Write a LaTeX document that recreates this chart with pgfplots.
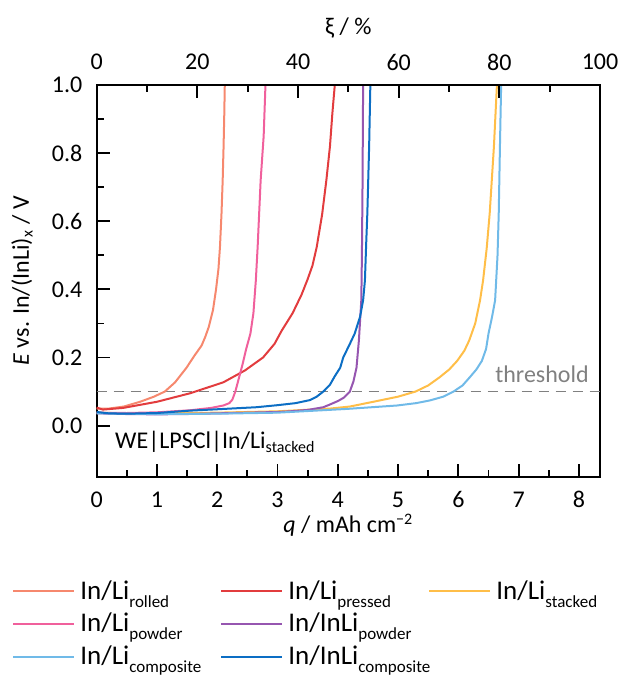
\documentclass[border=0pt]{standalone}
\usepackage{fontspec}
\setmainfont{Carlito}
\usepackage{pgfplots}
\pgfplotsset{compat=1.18}
\definecolor{cRolled}{RGB}{246,136,110}
\definecolor{cPressed}{RGB}{226,60,62}
\definecolor{cStacked}{RGB}{255,190,72}
\definecolor{cPowder}{RGB}{240,96,156}
\definecolor{cInLiPowder}{RGB}{150,86,176}
\definecolor{cComposite}{RGB}{112,186,232}
\definecolor{cInLiComposite}{RGB}{12,110,196}
\newcommand{\lt}[2]{\makebox[72.5pt][l]{\rule[-4pt]{0pt}{13pt}\hspace{2.5pt}\fontsize{13.5}{15}\selectfont #1\raisebox{-4pt}{\fontsize{8.5}{10}\selectfont #2}}}
\begin{document}
\begin{tikzpicture}[font=\fontsize{12}{14}\selectfont]
\pgfplotsset{mainticks/.style={
  axis line style={line width=0.9pt},
  tick style={draw=black, line width=0.9pt},
  tick align=inside,
  major tick length=6.5pt, minor tick length=3.5pt,
  /pgf/number format/assume math mode=true}}
\begin{axis}[
  at={(0,0)}, anchor=south west,
  width=251.65pt, height=195.85pt, scale only axis,
  xmin=0, xmax=8.35, ymin=-0.15, ymax=1.0,
  clip=false,
  mainticks,
  xtick={0,1,2,3,4,5,6,7,8}, minor x tick num=1,
  ytick={0,0.2,0.4,0.6,0.8,1.0}, minor y tick num=1,
  xtick pos=bottom, ytick pos=left,
  yticklabel style={/pgf/number format/fixed, /pgf/number format/fixed zerofill, /pgf/number format/precision=1},
  xticklabel style={anchor=center, inner sep=0pt, yshift=-11.5pt},
  yticklabel style={anchor=east, inner sep=0pt, xshift=-7pt},
  every axis plot/.append style={line width=1pt},
  legend columns=3,
  legend cell align=left,
  legend image code/.code={\draw[#1, line width=1pt] (0pt,0pt) -- (30.5pt,0pt);},
  legend style={at={(axis description cs:-0.1683,-0.2637)}, anchor=north west,
    draw=none, fill=none, inner sep=0pt, row sep=5.5pt, column sep=0pt,
    nodes={inner sep=0pt}},
]
\addplot[forget plot, gray, line width=0.75pt, dash pattern=on 5pt off 3.5pt] coordinates {(0,0.1) (8.35,0.1)};
% rolled
\addplot[cRolled] coordinates {
(0,0.050) (0.2,0.050) (0.45,0.056) (0.72,0.070) (0.95,0.085) (1.13,0.100) (1.30,0.127)
(1.49,0.170) (1.62,0.205) (1.74,0.235) (1.80,0.26) (1.86,0.29) (1.93,0.34) (1.98,0.40)
(2.02,0.46) (2.045,0.524) (2.07,0.62) (2.09,0.72) (2.105,0.82) (2.117,0.917) (2.125,1.0)};
\addlegendentry{\lt{In/Li}{rolled}}
% pressed
\addplot[cPressed] coordinates {
(0,0.053) (0.1,0.047) (0.44,0.052) (1.0,0.070) (1.55,0.095) (2.1,0.127) (2.46,0.162)
(2.76,0.200) (2.95,0.24) (3.07,0.279) (3.25,0.33) (3.40,0.385) (3.50,0.43) (3.58,0.47)
(3.65,0.524) (3.74,0.62) (3.81,0.72) (3.87,0.82) (3.91,0.917) (3.95,1.0)};
\addlegendentry{\lt{In/Li}{pressed}}
% stacked
\addplot[cStacked] coordinates {
(0,0.038) (0.5,0.036) (1.0,0.036) (2.0,0.038) (3.0,0.042) (3.87,0.050) (4.2,0.056)
(4.59,0.070) (5.0,0.085) (5.29,0.100) (5.5,0.118) (5.69,0.142) (5.85,0.165) (5.98,0.190)
(6.10,0.22) (6.18,0.25) (6.28,0.30) (6.36,0.368) (6.41,0.426) (6.47,0.52) (6.52,0.623)
(6.59,0.819) (6.64,1.0)};
\addlegendentry{\lt{In/Li}{stacked}}
% powder
\addplot[cPowder] coordinates {
(0,0.038) (0.5,0.037) (1.0,0.039) (1.55,0.045) (1.9,0.052) (2.1,0.059) (2.20,0.066)
(2.25,0.076) (2.30,0.100) (2.36,0.14) (2.42,0.18) (2.48,0.225) (2.55,0.27) (2.60,0.33)
(2.64,0.426) (2.67,0.524) (2.72,0.72) (2.77,0.85) (2.80,1.0)};
\addlegendentry{\lt{In/Li}{powder}}
% InLi powder
\addplot[cInLiPowder] coordinates {
(0,0.036) (0.5,0.034) (1.0,0.033) (1.5,0.034) (2.0,0.036) (2.5,0.038) (3.0,0.040)
(3.21,0.042) (3.5,0.046) (3.76,0.054) (3.87,0.062) (4.0,0.072) (4.1,0.082) (4.2,0.100)
(4.26,0.13) (4.31,0.170) (4.35,0.25) (4.39,0.368) (4.40,0.5) (4.41,0.7) (4.42,1.0)};
\addlegendentry{\lt{In/InLi}{powder}}
\addlegendimage{empty legend}
\addlegendentry{}
% composite
\addplot[cComposite] coordinates {
(0,0.036) (1,0.034) (2,0.035) (3,0.038) (4.15,0.049) (4.98,0.059) (5.30,0.066) (5.53,0.074)
(5.75,0.085) (5.92,0.100) (6.07,0.118) (6.19,0.142) (6.30,0.165) (6.39,0.190) (6.46,0.225)
(6.50,0.27) (6.56,0.32) (6.61,0.368) (6.65,0.50) (6.67,0.623) (6.69,0.819) (6.71,1.0)};
\addlegendentry{\lt{In/Li}{composite}}
% InLi composite
\addplot[cInLiComposite] coordinates {
(0,0.040) (0.2,0.036) (0.5,0.035) (1.0,0.037) (1.55,0.044) (2.0,0.048) (2.65,0.054)
(3.0,0.060) (3.3,0.066) (3.54,0.075) (3.65,0.085) (3.76,0.100) (3.87,0.120) (3.95,0.145)
(4.04,0.170) (4.09,0.20) (4.2,0.240) (4.28,0.27) (4.37,0.32) (4.42,0.368) (4.45,0.426)
(4.47,0.53) (4.49,0.623) (4.52,0.82) (4.54,1.0)};
\addlegendentry{\lt{In/InLi}{composite}}
\node[anchor=east, inner sep=0pt, text=gray] at (axis cs:8.17,0.15) {threshold};
\node[anchor=base west, inner sep=0pt] at (axis cs:0.30,-0.068) {WE|LPSCl|In/Li\textsubscript{stacked}};
\node[anchor=center] at (rel axis cs:0.5,-0.124) {\textit{q} / mAh cm\textsuperscript{−2}};
\node[anchor=center, rotate=90] at (rel axis cs:-0.1484,0.5) {\textit{E} vs. In/(InLi)\textsubscript{x} / V};
\end{axis}
\begin{axis}[
  at={(0,0)}, anchor=south west,
  width=251.65pt, height=195.85pt, scale only axis,
  xmin=0, xmax=100, ymin=0, ymax=1,
  clip=false,
  axis x line*=top, axis y line=none,
  mainticks,
  xtick={0,20,40,60,80,100}, minor x tick num=1,
  xticklabel style={anchor=center, inner sep=0pt, yshift=11.5pt},
]
\addplot[draw=none, forget plot] coordinates {(0,0) (100,1)};
\node[anchor=center] at (rel axis cs:0.5,1.1455) {ξ / \%};
\end{axis}
\pgfresetboundingbox
\path (-48.35pt,-102.15pt) rectangle (262.15pt,238.35pt);
\end{tikzpicture}
\end{document}
